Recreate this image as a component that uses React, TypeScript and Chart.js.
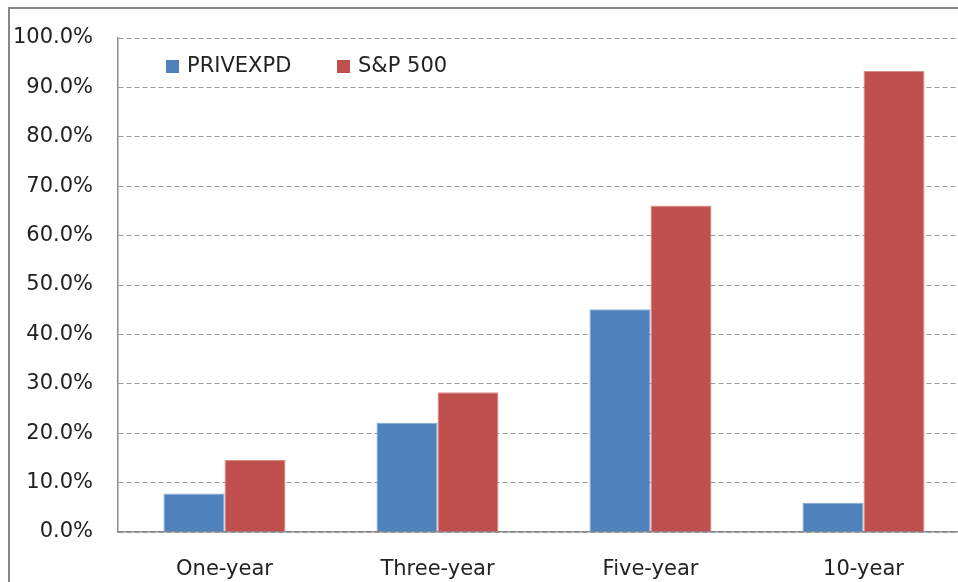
import React, { useEffect, useRef } from "react";
import { Chart, registerables } from "chart.js";

Chart.register(...registerables);

const categories = ["One-year", "Three-year", "Five-year", "10-year"];
const seriesNames = ["PRIVEXPD", "S&P 500"];
const privexpd = [7.8, 22.1, 45.1, 5.9];
const sp500 = [14.6, 28.3, 66.1, 93.3];
const yTicksMax = 100;
const yTickStep = 10;

const FONT = "'DejaVu Sans', sans-serif";

const legendPlugin = {
  id: "insideLegend",
  afterDraw(chart: any) {
    const ctx = chart.ctx;
    const area = chart.chartArea;
    const xs = [area.left + 48, area.left + 219];
    const yMid = area.top + 29;
    ctx.save();
    ctx.font = `21px ${FONT}`;
    ctx.textBaseline = "middle";
    ctx.textAlign = "left";
    chart.data.datasets.forEach((ds: any, i: number) => {
      const x = xs[i];
      ctx.fillStyle = ds.backgroundColor;
      ctx.fillRect(x, yMid - 7, 13, 13);
      ctx.fillStyle = "#222";
      ctx.fillText(ds.label, x + 21, yMid);
    });
    ctx.restore();
  },
};

export default function App() {
  const ref = useRef<HTMLCanvasElement>(null);
  useEffect(() => {
    document.documentElement.style.overflow = "hidden";
    document.body.style.overflow = "hidden";
    if (!ref.current) return;
    const chart = new Chart(ref.current, {
      type: "bar",
      data: {
        labels: categories,
        datasets: [
          {
            label: seriesNames[0],
            data: privexpd,
            backgroundColor: "#4F81BD",
            borderColor: "#86A8D6",
            borderWidth: { top: 1, left: 1, right: 1, bottom: 0 },
            barPercentage: 1,
            categoryPercentage: 0.573,
          },
          {
            label: seriesNames[1],
            data: sp500,
            backgroundColor: "#C0504D",
            borderColor: "#DB8F8C",
            borderWidth: { top: 1, left: 1, right: 1, bottom: 0 },
            barPercentage: 1,
            categoryPercentage: 0.573,
          },
        ],
      },
      options: {
        animation: false,
        responsive: false,
        maintainAspectRatio: false,
        layout: { padding: { top: 38, right: 30, left: 0, bottom: 0 } },
        plugins: {
          legend: { display: false },
          tooltip: { enabled: false },
          title: { display: false },
        },
        scales: {
          x: {
            grid: { display: false, drawTicks: false },
            border: { display: true, color: "#8c8c8c", width: 1.5 },
            ticks: {
              color: "#222",
              font: { family: FONT, size: 21 },
              padding: 25,
              maxRotation: 0,
            },
            afterFit(scale: any) {
              scale.height = 68;
            },
          },
          y: {
            min: 0,
            max: yTicksMax,
            grid: {
              display: true,
              color: "#9a9a9a",
              lineWidth: 1,
              drawTicks: false,
              tickLength: 0,
            },
            border: { display: true, color: "#8c8c8c", width: 1.5, dash: [5, 3] },
            ticks: {
              stepSize: yTickStep,
              color: "#222",
              font: { family: FONT, size: 21 },
              padding: 25,
              callback: (v: any) => Number(v).toFixed(1) + "%",
            },
            afterFit(scale: any) {
              scale.width = 118;
            },
          },
        },
      },
      plugins: [legendPlugin],
    });
    return () => chart.destroy();
  }, []);

  return (
    <div
      style={{
        position: "fixed",
        left: 0,
        top: 0,
        right: 0,
        bottom: 0,
        overflow: "hidden",
        background: "#fff",
      }}
    >
      <div
        style={{
          position: "absolute",
          left: 8,
          top: 7,
          width: 1200,
          height: 800,
          borderLeft: "2px solid #878787",
          borderTop: "2px solid #878787",
        }}
      />
      <canvas
        ref={ref}
        width={1000}
        height={600}
        style={{ position: "absolute", left: 0, top: 0, width: 1000, height: 600 }}
      />
    </div>
  );
}
